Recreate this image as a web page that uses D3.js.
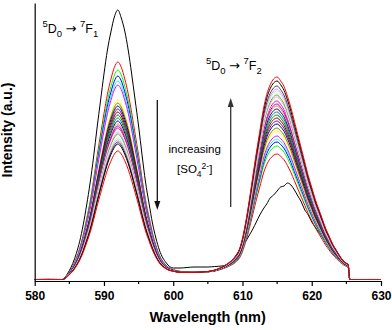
<!DOCTYPE html>
<html><head><meta charset="utf-8">
<script src="https://cdn.jsdelivr.net/npm/d3@7"></script>
<style>
body{margin:0;background:#fff}
svg{display:block;font-family:Arial,"Liberation Sans",sans-serif}
</style>
</head><body>
<svg id="chart" width="392" height="330"></svg>
<script>
// ---- data ----
const wavelengths = [580,582,584,584.6,585,585.5,586,586.5,587,587.5,588,588.5,589,589.5,590,590.5,591,591.5,592,592.5,593,593.5,594,594.5,595,595.5,596,596.5,597,597.5,598,599,600,601,602,603,604,605,606,607,608,608.5,609,609.5,610,610.5,611,611.5,612,612.5,613,613.5,614,614.5,615,615.5,616,616.5,617,617.5,618,618.5,619,619.5,620,620.5,621,621.5,622,622.5,623,623.5,624,624.5,625,625.25,625.5,626,628,630];

// common background level under both bands
const floorLevel = [1.5,1.5,1.5,1.8,2.5,3,3.5,4,4.3,4.6,4.8,5,5.1,5.2,5.3,5.4,5.5,5.6,5.7,5.8,5.9,6,6.1,6.2,6.3,6.4,6.5,6.6,6.7,6.8,6.8,7,7.2,7.5,8,8.2,8.3,8.4,8.6,8.9,9.3,9.3,9.3,9.3,9.3,9.4,9.4,9.4,9.5,9.5,9.5,9.5,9.5,9.5,9.5,9.6,9.6,9.6,9.7,9.7,9.7,9.8,9.8,9.8,9.9,9.9,9.9,10,10,10,10,10,10,10,10,10,1.5,1.5,1.5,1.5];

// normalised band shape of 5D0->7F1 (peak 592 nm)
const bandF1 = [0,0,0,0.015,0.03,0.055,0.09,0.135,0.195,0.27,0.35,0.45,0.56,0.66,0.76,0.85,0.92,0.975,1,0.975,0.92,0.85,0.76,0.66,0.56,0.45,0.35,0.27,0.195,0.135,0.09,0.04,0.02,0.01,0.006,0.004,0.002,0.001,0,0,0,0,0,0,0,0,0,0,0,0,0,0,0,0,0,0,0,0,0,0,0,0,0,0,0,0,0,0,0,0,0,0,0,0,0,0,0,0,0,0];

// normalised band shape of 5D0->7F2 (peak 615 nm)
const bandF2 = [0,0,0,0,0,0,0,0,0,0,0,0,0,0,0,0,0,0,0,0,0,0,0,0,0,0,0,0,0,0,0,0,0,0,0,0,0.002,0.005,0.012,0.025,0.045,0.06,0.08,0.11,0.17,0.26,0.37,0.49,0.61,0.72,0.83,0.91,0.96,0.99,1,0.98,0.95,0.9,0.84,0.77,0.7,0.63,0.56,0.49,0.43,0.37,0.32,0.27,0.22,0.18,0.14,0.11,0.08,0.055,0.04,0.035,0,0,0,0];

// first spectrum (no sulfate), black
const firstSpectrum = [1.5,1.8,1.5,5.8,10.5,17.6,27.4,39.8,56,76,98,124,153,180,207,231,249,264,271,263,250,231,207,181,155,126,99,78,58,43,31,18,13,13,13.5,14,14,14,14.5,15,17,20,25,30,35,40,46,52,59,66,72,77,83,86,90,94,95,98,96,91,85,79,71,66,59,54,49,44,39,35,31,27,23,20,16,14,1.5,1.5,1.5,1.5];

// following spectra, increasing [SO4 2-]
const seriesColors = ["#FF0000","#00FF00","#0000FF","#00FFFF","#FF00FF","#FFFF00","#808000","#000080","#800080","#800000","#008000","#008080","#0000A0","#FF8000","#8000FF","#FF0080","#FFFFFF","#C0C0C0","#808080","#FFFF80","#80FFFF","#FF80FF","#404040","#000000","#FF0000"];
const peakF1 = [219,211,205,200,196,181,178,175,172,169,166,163,160,157,155,153,151,149,147,145,143,141,139,137,130];
const peakF2 = [127,135,139,142,145,150,153,157,160,163,166,169,172,175,177,180,182,184,186,188,190,192,195,200,204];

const xTicks = [580,590,600,610,620,630];
const xMinorTicks = [585,595,605,615,625];

// ---- build series ----
const iF1 = wavelengths.indexOf(592), iF2 = wavelengths.indexOf(615);
const series = [{color:"#000000", values:firstSpectrum}].concat(
  seriesColors.map((c,k)=>({
    color:c,
    values: wavelengths.map((w,i)=> floorLevel[i]
      + (peakF1[k]-floorLevel[iF1])*bandF1[i]
      + (peakF2[k]-floorLevel[iF2])*bandF2[i])
  })));

// ---- drawing ----
const svg = d3.select("#chart");
const x = d3.scaleLinear().domain([580,630]).range([34.7,381]);
const y = d3.scaleLinear().domain([0,278]).range([281,3]);

const line = d3.line().x(d=>x(d[0])).y(d=>y(d[1])).curve(d3.curveMonotoneX);

svg.append("g").selectAll("path").data(series).join("path")
  .attr("d", s => line(wavelengths.map((w,i)=>[w,s.values[i]])))
  .attr("fill","none").attr("stroke",s=>s.color).attr("stroke-width",1);

// x axis
const gx = svg.append("g").attr("transform","translate(0,281)");
gx.call(d3.axisBottom(x).tickValues(xTicks).tickSize(5).tickSizeOuter(0).tickFormat(d3.format("d")));
gx.select(".domain").attr("stroke","#000").attr("stroke-width",1.2);
gx.selectAll(".tick line").attr("stroke","#000").attr("stroke-width",1.2);
gx.selectAll(".tick text").attr("font-size",12).attr("font-weight","bold")
  .attr("font-family","Arial, 'Liberation Sans', sans-serif").attr("fill","#000")
  .attr("y",19).attr("dy",0);
gx.selectAll(".minor").data(xMinorTicks).join("line").attr("class","minor")
  .attr("x1",d=>x(d)).attr("x2",d=>x(d)).attr("y1",0).attr("y2",3)
  .attr("stroke","#000").attr("stroke-width",1.2);

// y axis (line only)
const gy = svg.append("g").attr("transform","translate(34.7,0)");
gy.call(d3.axisLeft(y).tickValues([]).tickSizeOuter(0));
gy.select(".domain").attr("stroke","#000").attr("stroke-width",1.2);

// axis titles
svg.append("text").attr("x",207.7).attr("y",321.5).attr("text-anchor","middle")
  .attr("font-size",14.5).attr("font-weight","bold").text("Wavelength (nm)");
svg.append("text").attr("transform","translate(12,130) rotate(-90)").attr("text-anchor","middle")
  .attr("font-size",14).attr("font-weight","bold").text("Intensity (a.u.)");

// transition labels
function transition(x0, yb, j){
  const t = svg.append("text").attr("x",x0).attr("y",yb).attr("font-size",12.5);
  t.append("tspan").attr("font-size",9.5).attr("dy",-6.5).text("5");
  t.append("tspan").attr("dy",6.5).text("D");
  t.append("tspan").attr("font-size",9.5).attr("dy",4).text("0");
  t.append("tspan").attr("dy",-4).text(" ");
  t.append("tspan").attr("font-family","'DejaVu Sans', sans-serif").attr("font-size",13).text("\u2192");
  t.append("tspan").text(" ");
  t.append("tspan").attr("font-size",9.5).attr("dy",-6.5).text("7");
  t.append("tspan").attr("dy",6.5).text("F");
  t.append("tspan").attr("font-size",9.5).attr("dy",4).text(j);
}
transition(42.5,33,"1");
transition(206,70,"2");

// increasing [SO4 2-]
svg.append("text").attr("x",194.7).attr("y",153.3).attr("text-anchor","middle")
  .attr("font-size",11.5).text("increasing");
const s = svg.append("text").attr("x",194.7).attr("y",173.3).attr("text-anchor","middle").attr("font-size",11.5);
s.append("tspan").text("[SO");
s.append("tspan").attr("font-size",8.5).attr("dy",3.5).text("4");
s.append("tspan").attr("font-size",8.5).attr("dy",-8).text("2-");
s.append("tspan").attr("dy",4.5).text("]");

// arrows
function arrow(xa, yFrom, yTo, col){
  const dir = yTo > yFrom ? 1 : -1;
  const headL = 9, headW = 3;
  svg.append("line").attr("x1",xa).attr("x2",xa).attr("y1",yFrom).attr("y2",yTo - dir*headL)
    .attr("stroke",col).attr("stroke-width",1.3);
  svg.append("path").attr("d",`M${xa-headW},${yTo-dir*headL}L${xa+headW},${yTo-dir*headL}L${xa},${yTo}Z`)
    .attr("fill",col);
}
arrow(157.3,100,210,"#111");
arrow(230.7,207,98,"#333");
</script>
</body></html>
